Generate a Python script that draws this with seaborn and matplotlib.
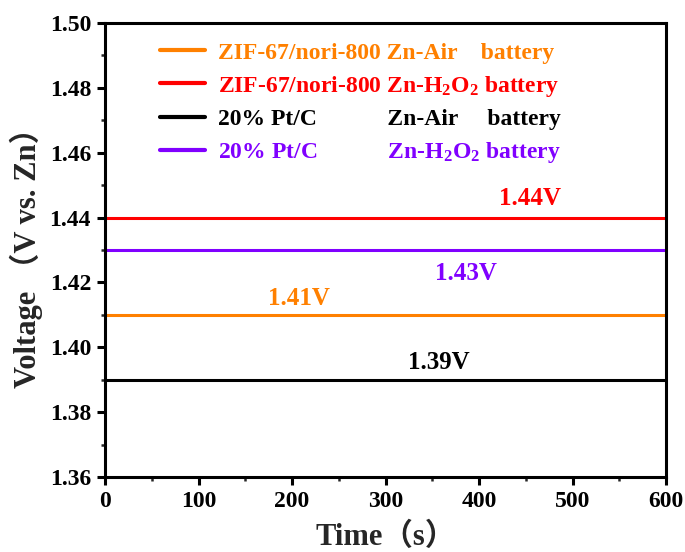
import matplotlib
matplotlib.use("Agg")
import matplotlib.pyplot as plt
import seaborn as sns
import pandas as pd
from matplotlib.ticker import MultipleLocator, FormatStrFormatter

sns.set_theme(style="ticks")
plt.rcParams['font.family'] = ['Liberation Serif', 'Noto Sans CJK SC']
plt.rcParams['font.weight'] = 'bold'
plt.rcParams['mathtext.fontset'] = 'custom'
plt.rcParams['mathtext.rm'] = 'Liberation Serif:bold'
plt.rcParams['mathtext.it'] = 'Liberation Serif:bold'
plt.rcParams['mathtext.bf'] = 'Liberation Serif:bold'

# Data
time_s = [0, 600]
series_labels = [
    "ZIF-67/nori-800 Zn-Air    battery",
    r"ZIF-67/nori-800 Zn-H$_2$O$_2$ battery",
    "20% Pt/C            Zn-Air     battery",
    r"20% Pt/C            Zn-H$_2$O$_2$ battery",
]
voltages = [1.41, 1.44, 1.39, 1.43]
colors = ["#FF8000", "#FF0000", "#000000", "#8000FF"]
annot_text = ["1.41V", "1.44V", "1.39V", "1.43V"]
annot_x = [207, 455, 357, 386]
annot_y = [1.4151, 1.4458, 1.3954, 1.4228]

rows = []
for lab, v in zip(series_labels, voltages):
    for t in time_s:
        rows.append({"Time": t, "Voltage": v, "Series": lab})
df = pd.DataFrame(rows)

fig = plt.figure(figsize=(6.85, 5.52), dpi=100)
ax = fig.add_axes([0.1533, 0.1359, 0.9723 - 0.1533, 0.9583 - 0.1359])

sns.lineplot(data=df, x="Time", y="Voltage", hue="Series",
             hue_order=series_labels, palette=colors, linewidth=2.2, ax=ax)

for txt, x, y, c in zip(annot_text, annot_x, annot_y, colors):
    ax.text(x, y, txt, color=c, fontsize=18, fontweight='bold',
            ha='center', va='center')

ax.set_xlim(0, 600)
ax.set_ylim(1.36, 1.50)
ax.xaxis.set_major_locator(MultipleLocator(100))
ax.xaxis.set_minor_locator(MultipleLocator(50))
ax.yaxis.set_major_locator(MultipleLocator(0.02))
ax.yaxis.set_minor_locator(MultipleLocator(0.01))
ax.yaxis.set_major_formatter(FormatStrFormatter('%.2f'))

for s in ax.spines.values():
    s.set_linewidth(2.2)
    s.set_color('black')
ax.tick_params(which='major', direction='out', length=6, width=2.2,
               labelsize=17, pad=4, colors='black')
ax.tick_params(which='minor', direction='out', length=3, width=1.8)
ax.tick_params(top=False, right=False, which='both')
for lab in ax.get_xticklabels() + ax.get_yticklabels():
    lab.set_fontweight('bold')

ax.set_xlabel("Time（s）", fontsize=22, fontweight='bold', labelpad=8)
ax.set_ylabel("Voltage （V vs. Zn）", fontsize=22, fontweight='bold', labelpad=5)

leg = ax.legend(loc='upper left', bbox_to_anchor=(0.098, 0.958), frameon=False,
                fontsize=17, labelcolor='linecolor', handlelength=1.9,
                handletextpad=0.55, labelspacing=0.42, borderaxespad=0,
                borderpad=0)
for t in leg.get_texts():
    t.set_fontweight('bold')
for h in leg.get_lines():
    h.set_linewidth(3)

fig.savefig("out.png", dpi=100)
